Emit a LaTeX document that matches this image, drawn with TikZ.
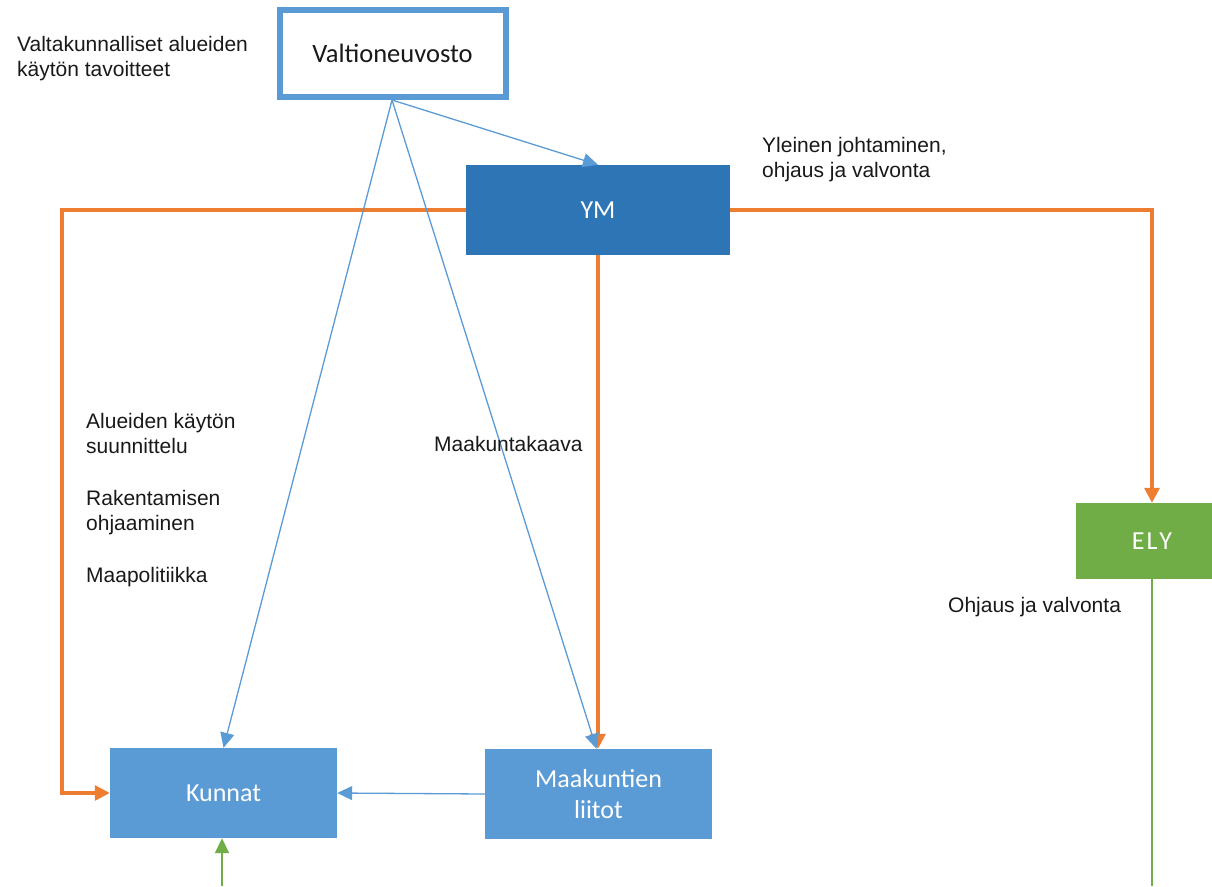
\documentclass[tikz,border=0pt]{standalone}
\usepackage{fontspec}
\setmainfont{Liberation Sans}
\newfontfamily\boxfont{Carlito}
\usetikzlibrary{arrows.meta}
\definecolor{lblue}{HTML}{5B9BD5}
\definecolor{dblue}{HTML}{2E75B6}
\definecolor{oline}{HTML}{ED7D31}
\definecolor{gbox}{HTML}{70AD47}
\tikzset{
  filled/.style={inner sep=0pt, minimum width=#1, text=white, font=\boxfont\fontsize{26}{31.5}\selectfont, align=center},
  lbl/.style={anchor=base west, inner sep=0pt, font=\fontsize{21}{25}\selectfont, align=left, text=black!90},
  bluearr/.style={draw=lblue, line width=1.3pt, -{Triangle[length=15pt,width=14pt]}},
  orarr/.style={draw=oline, line width=3.2pt, -{Triangle[length=15pt,width=15pt]}},
  grarr/.style={draw=gbox, line width=2pt},
}
\begin{document}
\begin{tikzpicture}[x=1pt,y=-1pt]
\useasboundingbox (0,0) rectangle (1212,886);
% boxes
\node[draw=lblue, line width=6pt, fill=white, minimum width=226pt, minimum height=87pt, inner sep=0pt,
      font=\boxfont\fontsize{26.5}{32}\selectfont, text=black!90] (vn) at (392.5,53.5) {Valtioneuvosto};
\node[filled=264pt, fill=dblue, minimum height=90pt] (ym) at (598,210) {YM};
\node[filled=152pt, fill=gbox, minimum height=76pt] (ely) at (1152,541) {E\kern2ptL\kern2ptY};
\node[filled=227pt, fill=lblue, minimum height=90pt] (ku) at (223.5,793) {Kunnat};
\node[filled=227pt, fill=lblue, minimum height=90pt] (mk) at (598.5,794) {Maakuntien\\liitot};
% coordinates
\coordinate (vs) at (392,100);
\coordinate (lc) at (62,210);
\coordinate (gb) at (222,886);
\coordinate (eb) at (1152,886);
% orange
\draw[orarr] (ym.west) -- (lc) |- (ku.west);
\draw[orarr] (ym.east) -| (ely.north);
\draw[orarr] (ym.south) -- (ym.south |- mk.north);
% blue
\draw[bluearr] (vs) -- (ym.north);
\draw[bluearr] (vs) -- (ku.north);
\draw[bluearr] (vs) -- ([xshift=-2pt]mk.north);
\draw[bluearr] (mk.west) -- (ku.east);
% green
\draw[grarr, -{Triangle[length=15pt,width=14pt]}] (gb) -- (gb |- ku.south);
\draw[grarr] (ely.south) -- (eb);
% labels
\node[lbl] (t1) at (17,76) {Valtakunnalliset alueiden\\käytön tavoitteet};
\node[lbl] (t2) at (762,177) {Yleinen johtaminen,\\ohjaus ja valvonta};
\node[lbl] (t3) at (86,453) {Alueiden käytön\\suunnittelu};
\node[lbl] (t4) at (86,530) {Rakentamisen\\ohjaaminen};
\node[lbl] (t5) at (86,582) {Maapolitiikka};
\node[lbl] (t6) at (434,451) {Maakuntakaava};
\node[lbl] (t7) at (948,612) {Ohjaus ja valvonta};
\end{tikzpicture}
\end{document}
